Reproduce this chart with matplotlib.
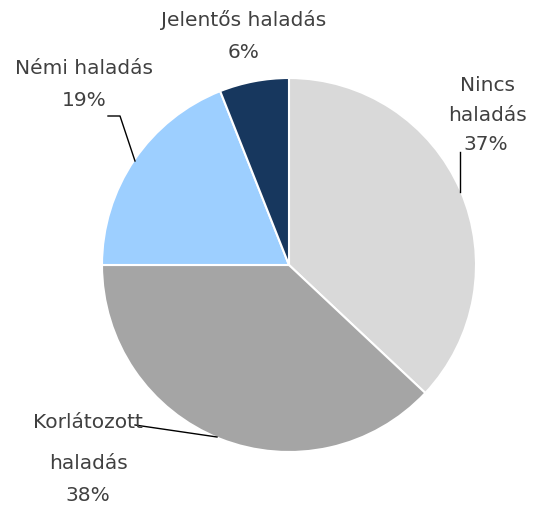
import matplotlib

matplotlib.use("Agg")
import matplotlib.pyplot as plt

# Slices, clockwise from 12 o'clock
categories = ["Nincs haladás", "Korlátozott haladás", "Némi haladás", "Jelentős haladás"]
shares = [37, 38, 19, 6]
colors = ["#D9D9D9", "#A5A5A5", "#9DCFFF", "#17375E"]

# label text split into lines as in the original
label_lines = [["Nincs", "haladás"], ["Korlátozott", "haladás"], ["Némi haladás"], ["Jelentős haladás"]]

W, H = 533, 506
fig = plt.figure(figsize=(W / 100, H / 100), dpi=100)
ax = fig.add_axes([0, 0, 1, 1])

cx, cy, r = 289, H - 266, 187
ax.pie(shares, colors=colors, startangle=90, counterclock=False, center=(cx, cy), radius=r,
       wedgeprops={"edgecolor": "white", "linewidth": 1.5}, frame=True)
ax.set_xlim(0, W)
ax.set_ylim(0, H)
ax.set_aspect("equal")
ax.axis("off")

# label positions (pixel coords from top-left) and line spacing
label_pos = [(487, 85), (88, 423), (84, 68), (244, 20)]
pct_pos = [(486, 145), (88, 496), (84, 100), (244, 52)]
line_gap = [30, 41, 0, 0]
fs = 14.5

for lines, share, (lx, ly), (px, py), gap in zip(label_lines, shares, label_pos, pct_pos, line_gap):
    for i, t in enumerate(lines):
        ax.text(lx, H - (ly + i * gap), t, ha="center", va="center", fontsize=fs, color="#404040")
    ax.text(px, H - py, f"{share}%", ha="center", va="center", fontsize=fs, color="#404040")

# leader lines
ax.plot([108, 120, 135], [H - 117, H - 117, H - 162], color="black", lw=1)
ax.plot([460, 460], [H - 153, H - 193], color="black", lw=1)
ax.plot([135, 217], [H - 426, H - 438], color="black", lw=1)

fig.savefig("out.png", dpi=100)
